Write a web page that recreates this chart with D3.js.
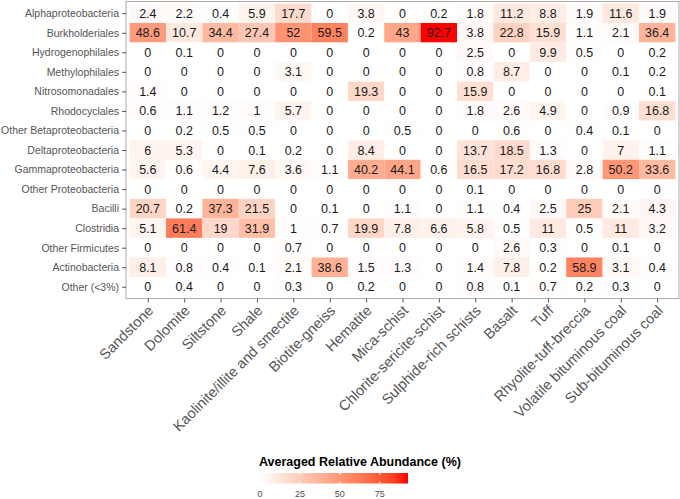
<!DOCTYPE html>
<html>
<head>
<meta charset="utf-8">
<script src="https://cdn.jsdelivr.net/npm/d3@7"></script>
<style>
  body { margin: 0; background: #fff; }
  svg { font-family: "Liberation Sans", Arial, sans-serif; }
</style>
</head>
<body>
<svg id="chart" width="680" height="499"></svg>
<script>
// rock types (columns)
var rocks = ["Sandstone", "Dolomite", "Siltstone", "Shale", "Kaolinite/illite and smectite",
  "Biotite-gneiss", "Hematite", "Mica-schist", "Chlorite-sericite-schist", "Sulphide-rich schists",
  "Basalt", "Tuff", "Rhyolite-tuff-breccia", "Volatile bituminous coal", "Sub-bituminous coal"];

// taxa (rows)
var taxa = ["Alphaproteobacteria", "Burkholderiales", "Hydrogenophilales", "Methylophilales",
  "Nitrosomonadales", "Rhodocyclales", "Other Betaproteobacteria", "Deltaproteobacteria",
  "Gammaproteobacteria", "Other Proteobacteria", "Bacilli", "Clostridia", "Other Firmicutes",
  "Actinobacteria", "Other (<3%)"];

// averaged relative abundance (%), one row per taxon
var abundance = [
  [2.4, 2.2, 0.4, 5.9, 17.7, 0, 3.8, 0, 0.2, 1.8, 11.2, 8.8, 1.9, 11.6, 1.9],
  [48.6, 10.7, 34.4, 27.4, 52, 59.5, 0.2, 43, 92.7, 3.8, 22.8, 15.9, 1.1, 2.1, 36.4],
  [0, 0.1, 0, 0, 0, 0, 0, 0, 0, 2.5, 0, 9.9, 0.5, 0, 0.2],
  [0, 0, 0, 0, 3.1, 0, 0, 0, 0, 0.8, 8.7, 0, 0, 0.1, 0.2],
  [1.4, 0, 0, 0, 0, 0, 19.3, 0, 0, 15.9, 0, 0, 0, 0, 0.1],
  [0.6, 1.1, 1.2, 1, 5.7, 0, 0, 0, 0, 1.8, 2.6, 4.9, 0, 0.9, 16.8],
  [0, 0.2, 0.5, 0.5, 0, 0, 0, 0.5, 0, 0, 0.6, 0, 0.4, 0.1, 0],
  [6, 5.3, 0, 0.1, 0.2, 0, 8.4, 0, 0, 13.7, 18.5, 1.3, 0, 7, 1.1],
  [5.6, 0.6, 4.4, 7.6, 3.6, 1.1, 40.2, 44.1, 0.6, 16.5, 17.2, 16.8, 2.8, 50.2, 33.6],
  [0, 0, 0, 0, 0, 0, 0, 0, 0, 0.1, 0, 0, 0, 0, 0],
  [20.7, 0.2, 37.3, 21.5, 0, 0.1, 0, 1.1, 0, 1.1, 0.4, 2.5, 25, 2.1, 4.3],
  [5.1, 61.4, 19, 31.9, 1, 0.7, 19.9, 7.8, 6.6, 5.8, 0.5, 11, 0.5, 11, 3.2],
  [0, 0, 0, 0, 0.7, 0, 0, 0, 0, 0, 2.6, 0.3, 0, 0.1, 0],
  [8.1, 0.8, 0.4, 0.1, 2.1, 38.6, 1.5, 1.3, 0, 1.4, 7.8, 0.2, 58.9, 3.1, 0.4],
  [0, 0.4, 0, 0, 0.3, 0, 0.2, 0, 0, 0.8, 0.1, 0.7, 0.2, 0.3, 0]
];

var legendTicks = [0, 25, 50, 75];

(function() {
  var svg = d3.select("#chart");
  var pLeft = 126, pRight = 679, pTop = 1.5, pBottom = 298.5;

  var x = d3.scalePoint().domain(rocks).range([pLeft, pRight]).padding(0.6);
  var y = d3.scalePoint().domain(taxa).range([pTop, pBottom]).padding(0.6);
  var maxVal = d3.max(abundance, function(r) { return d3.max(r); });
  var color = d3.scaleLinear().domain([0, maxVal]).range(["white", "red"])
    .interpolate(d3.interpolateLab);

  var cells = [];
  abundance.forEach(function(row, i) {
    row.forEach(function(v, j) {
      cells.push({taxon: taxa[i], rock: rocks[j], value: v});
    });
  });

  var cw = x.step(), ch = y.step();

  // tiles
  svg.append("g").selectAll("rect")
    .data(cells).enter().append("rect")
    .attr("x", function(d) { return x(d.rock) - cw / 2; })
    .attr("y", function(d) { return y(d.taxon) - ch / 2; })
    .attr("width", cw)
    .attr("height", ch)
    .attr("fill", function(d) { return color(d.value); });

  // labels in tiles
  svg.append("g").selectAll("text")
    .data(cells).enter().append("text")
    .attr("x", function(d) { return x(d.rock); })
    .attr("y", function(d) { return y(d.taxon); })
    .attr("dy", "0.36em")
    .attr("text-anchor", "middle")
    .attr("font-size", 12.5)
    .attr("fill", "#1a1a1a")
    .text(function(d) { return d.value; });

  // panel border
  svg.append("rect")
    .attr("x", pLeft).attr("y", pTop)
    .attr("width", pRight - pLeft).attr("height", pBottom - pTop)
    .attr("fill", "none").attr("stroke", "#aaaaaa").attr("stroke-width", 1);

  // y axis
  var yAxis = svg.append("g")
    .attr("transform", "translate(" + pLeft + ",0)")
    .call(d3.axisLeft(y).tickSize(4).tickPadding(3));
  yAxis.select(".domain").remove();
  yAxis.selectAll("line").attr("stroke", "#555");
  yAxis.selectAll("text").attr("font-size", 10.5).attr("fill", "#555")
    .style("font-family", "Liberation Sans, Arial, sans-serif");

  // x axis
  var xAxis = svg.append("g")
    .attr("transform", "translate(0," + pBottom + ")")
    .call(d3.axisBottom(x).tickSize(4).tickPadding(0));
  xAxis.select(".domain").remove();
  xAxis.selectAll("line").attr("stroke", "#555");
  xAxis.selectAll("text")
    .attr("font-size", 14.5).attr("fill", "#555")
    .style("font-family", "Liberation Sans, Arial, sans-serif")
    .attr("text-anchor", "end")
    .attr("y", 0).attr("dy", 0)
    .attr("transform", "translate(6,13) rotate(-45)");

  // legend
  var lx0 = 260, lx1 = 408, ly = 473, lh = 10.5;
  var lscale = d3.scaleLinear().domain([0, maxVal]).range([lx0, lx1]);

  var grad = svg.append("defs").append("linearGradient").attr("id", "lg");
  d3.range(0, 1.0001, 0.1).forEach(function(t) {
    grad.append("stop").attr("offset", t).attr("stop-color", color(t * maxVal));
  });

  svg.append("text")
    .attr("x", 259).attr("y", 466)
    .attr("font-size", 12.5).attr("font-weight", "bold").attr("fill", "#000")
    .text("Averaged Relative Abundance (%)");

  svg.append("rect")
    .attr("x", lx0).attr("y", ly).attr("width", lx1 - lx0).attr("height", lh)
    .attr("fill", "url(#lg)");

  var lt = svg.append("g");
  legendTicks.forEach(function(t) {
    lt.append("line").attr("x1", lscale(t)).attr("x2", lscale(t))
      .attr("y1", ly).attr("y2", ly + 2).attr("stroke", "white");
    lt.append("line").attr("x1", lscale(t)).attr("x2", lscale(t))
      .attr("y1", ly + lh - 2).attr("y2", ly + lh).attr("stroke", "white");
    lt.append("text").attr("x", lscale(t)).attr("y", 497)
      .attr("text-anchor", "middle").attr("font-size", 9).attr("fill", "#4d4d4d")
      .text(t);
  });
})();
</script>
</body>
</html>
